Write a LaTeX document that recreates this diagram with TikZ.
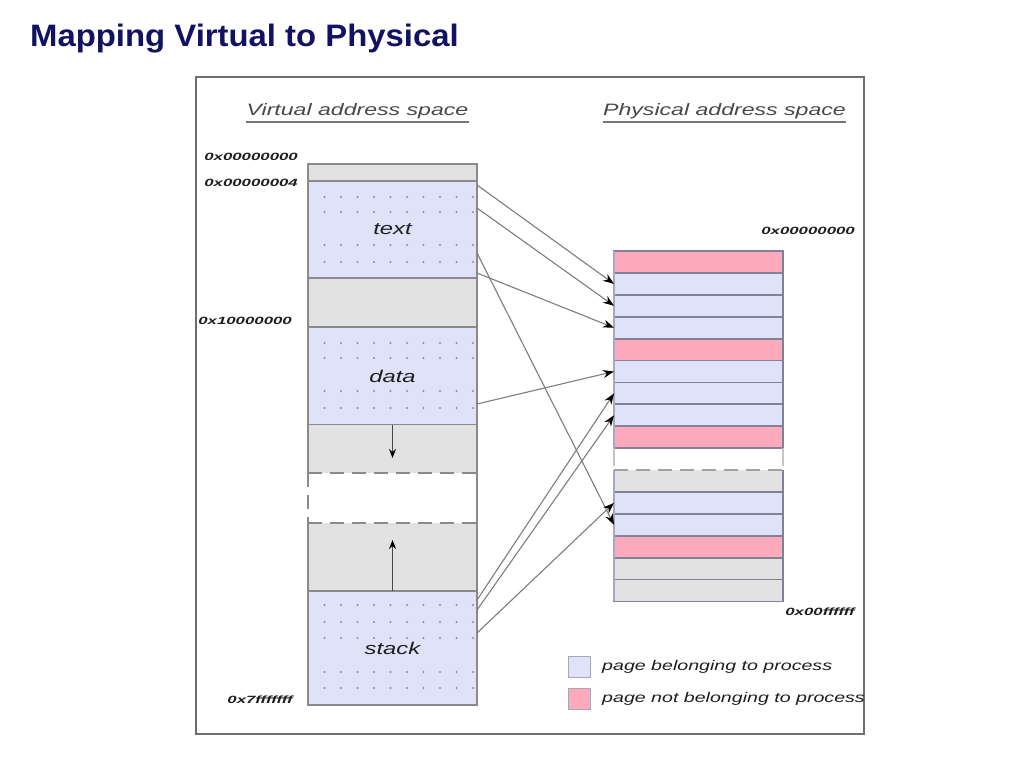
\documentclass[tikz,border=0pt]{standalone}
\usepackage{fontspec}
\setmainfont{Liberation Sans}
\newfontfamily\titlefont[FakeStretch=1.06]{Liberation Sans}
\newfontfamily\figfont[FakeStretch=1.4]{Liberation Sans}
\newfontfamily\addrfont[FakeStretch=1.6]{Liberation Sans}
\usetikzlibrary{positioning,arrows.meta}

\definecolor{titleblue}{RGB}{18,18,98}
\definecolor{ownpage}{RGB}{224,226,250}
\definecolor{otherpage}{RGB}{255,170,188}
\definecolor{freepage}{RGB}{226,226,226}
\definecolor{colgray}{RGB}{138,138,142}
\definecolor{rowgray}{RGB}{130,130,150}
\definecolor{sidegray}{RGB}{168,168,196}
\definecolor{framegray}{RGB}{110,110,110}
\definecolor{headgray}{RGB}{72,72,72}
\definecolor{labelink}{RGB}{30,30,30}
\definecolor{arrowgray}{RGB}{125,125,125}
\definecolor{dotgray}{RGB}{140,140,170}

\begin{document}
\begin{tikzpicture}[x=1pt,y=-1pt,
    vpage/.style={rectangle,minimum width=169,inner sep=0,outer sep=0,draw=colgray,line width=1.8},
    vfree/.style={rectangle,minimum width=169,inner sep=0,outer sep=0,fill=freepage},
    ppage/.style={rectangle,minimum width=169,minimum height=21.9,inner sep=0,outer sep=0,draw=rowgray,line width=1.8},
    pfree/.style={rectangle,minimum width=169,minimum height=21.9,inner sep=0,outer sep=0,fill=freepage},
    colline/.style={draw=colgray,line width=1.8},
    gapdash/.style={dash pattern=on 14pt off 8pt},
    seglabel/.style={font=\figfont\itshape\fontsize{17}{20}\selectfont,text=labelink},
    addr/.style={font=\addrfont\bfseries\itshape\fontsize{10.5}{12}\selectfont,text=labelink,inner sep=0,anchor=east},
    head/.style={font=\figfont\itshape\fontsize{16.5}{19}\selectfont,text=headgray,inner xsep=0,inner ysep=3.5,anchor=base},
    headline/.style={draw=headgray!75,line width=1.8},
    mapline/.style={draw=arrowgray,line width=1.1,-{Stealth[length=11pt,width=8pt,black]}},
    growline/.style={draw=headgray,line width=1.3,-{Stealth[length=9pt,width=7pt,black]}},
    vdot/.style={fill=dotgray},
    legbox/.style={rectangle,minimum width=22,minimum height=21,inner sep=0,outer sep=0,draw=rowgray!70,line width=1},
    legtext/.style={font=\figfont\itshape\fontsize{14}{17}\selectfont,text=labelink,inner sep=0,anchor=west}]

    \useasboundingbox (0,0) rectangle (1024,768);
    \fill[white] (0,0) rectangle (1024,768);

    % title and frame
    \node[anchor=base west,inner sep=0,text=titleblue,font=\titlefont\bfseries\fontsize{31}{36}\selectfont] (title) at (30,46) {Mapping Virtual to Physical};
    \draw[framegray,line width=1.3] (196,77) rectangle (864,734);

    % headings
    \node[head] (vhead) at (357.5,115) {Virtual address space};
    \draw[headline] (vhead.south west) -- (vhead.south east);
    \node[head] (phead) at (724.5,115) {Physical address space};
    \draw[headline] (phead.south west) -- (phead.south east);

    % virtual address space
    \node[vpage,fill=freepage,minimum height=17] (vtop) at (392.5,172.5) {};
    \node[vpage,fill=ownpage,minimum height=97,below=0pt of vtop] (vtext) {};
    \node[vpage,fill=freepage,minimum height=49,below=0pt of vtext] (vgap) {};
    \node[vpage,fill=ownpage,minimum height=98,below=0pt of vgap] (vdata) {};
    \node[vfree,minimum height=48,below=0pt of vdata] (vheap) {};
    \node[vfree,minimum height=68,below=50pt of vheap] (vgrow) {};
    \node[vpage,fill=ownpage,minimum height=114,below=0pt of vgrow] (vstack) {};

    \draw[colline] (vheap.north west) -- (vheap.south west);
    \draw[colline] (vheap.north east) -- (vheap.south east) -- (vgrow.north east) -- (vgrow.south east);
    \draw[colline] (vgrow.north west) -- (vgrow.south west);
    \draw[colline,gapdash] (vheap.south west) -- (vheap.south east);
    \draw[colline,gapdash] (vgrow.north west) -- (vgrow.north east);
    \draw[colline,gapdash] (vheap.south west) -- (vgrow.north west);

    % dot grid in the used segments
    \foreach \y in {197,212,245,262,343,358,391,408,605,622,638,672,688}
        \foreach \x in {1,...,10}
            \fill[vdot] (308+\x*16.5,\y) circle (1.1);

    \node[seglabel] (ltext) at (vtext) {text};
    \node[seglabel] (ldata) at (vdata) {data};
    \node[seglabel] (lstack) at (vstack) {stack};

    \coordinate (heaptip) at (392.5,458);
    \coordinate (growtip) at (392.5,540);
    \draw[growline] (vheap.north) -- (heaptip);
    \draw[growline] (vgrow.south) -- (growtip);

    \node[addr] (va0) at (298,157) {0x00000000};
    \node[addr] (va4) at (298,183) {0x00000004};
    \node[addr] (va1) at (292,321) {0x10000000};
    \node[addr] (va7) at (293,700) {0x7fffffff};

    % physical address space
    \node[ppage,fill=otherpage] (p1) at (698.5,262) {};
    \node[ppage,fill=ownpage,below=0pt of p1] (p2) {};
    \node[ppage,fill=ownpage,below=0pt of p2] (p3) {};
    \node[ppage,fill=ownpage,below=0pt of p3] (p4) {};
    \node[ppage,fill=otherpage,below=0pt of p4] (p5) {};
    \node[ppage,fill=ownpage,below=0pt of p5] (p6) {};
    \node[ppage,fill=ownpage,below=0pt of p6] (p7) {};
    \node[ppage,fill=ownpage,below=0pt of p7] (p8) {};
    \node[ppage,fill=otherpage,below=0pt of p8] (p9) {};
    \draw[draw=sidegray,line width=2.2] (p1.north west) -- (p9.south west);
    \draw[draw=colgray!50,line width=1.5] (p9.south west) -- ++(0,18);
    \draw[draw=colgray!50,line width=1.5] (p9.south east) -- ++(0,18);

    \node[pfree] (q1) at (698.5,481) {};
    \node[ppage,fill=ownpage,below=0pt of q1] (q2) {};
    \node[ppage,fill=ownpage,below=0pt of q2] (q3) {};
    \node[ppage,fill=otherpage,below=0pt of q3] (q4) {};
    \node[ppage,fill=freepage,below=0pt of q4] (q5) {};
    \node[ppage,fill=freepage,below=0pt of q5] (q6) {};
    \draw[draw=rowgray,line width=1.8] (q1.north east) -- (q1.south east);
    \draw[draw=sidegray,line width=2.2] (q1.north west) -- (q6.south west);
    \draw[draw=colgray!80,line width=1.8,gapdash] (q1.north west) -- (q1.north east);

    \node[addr] (pa0) at (855,231) {0x00000000};
    \node[addr] (paf) at (855,612) {0x00ffffff};

    % mappings
    \coordinate (t1) at (477,185);
    \coordinate (t2) at (477,208);
    \coordinate (t3) at (477,253);
    \coordinate (t4) at (477,273);
    \coordinate (d1) at (477,404);
    \coordinate (s1) at (477,600);
    \coordinate (s2) at (477,610);
    \coordinate (s3) at (477,633);

    \draw[mapline] (t1) -- (p2.west);
    \draw[mapline] (t2) -- (p3.west);
    \draw[mapline] (t4) -- (p4.west);
    \draw[mapline] (t3) -- (q3.west);
    \draw[mapline] (d1) -- (p6.west);
    \draw[mapline] (s1) -- (p7.west);
    \draw[mapline] (s2) -- (p8.west);
    \draw[mapline] (s3) -- (q2.west);

    % legend
    \node[legbox,fill=ownpage] (lown) at (579,666.5) {};
    \node[legtext,right=12pt of lown] (lowntext) {page belonging to process};
    \node[legbox,fill=otherpage] (lother) at (579,698.5) {};
    \node[legtext,right=12pt of lother] (lothertext) {page not belonging to process};
\end{tikzpicture}
\end{document}
